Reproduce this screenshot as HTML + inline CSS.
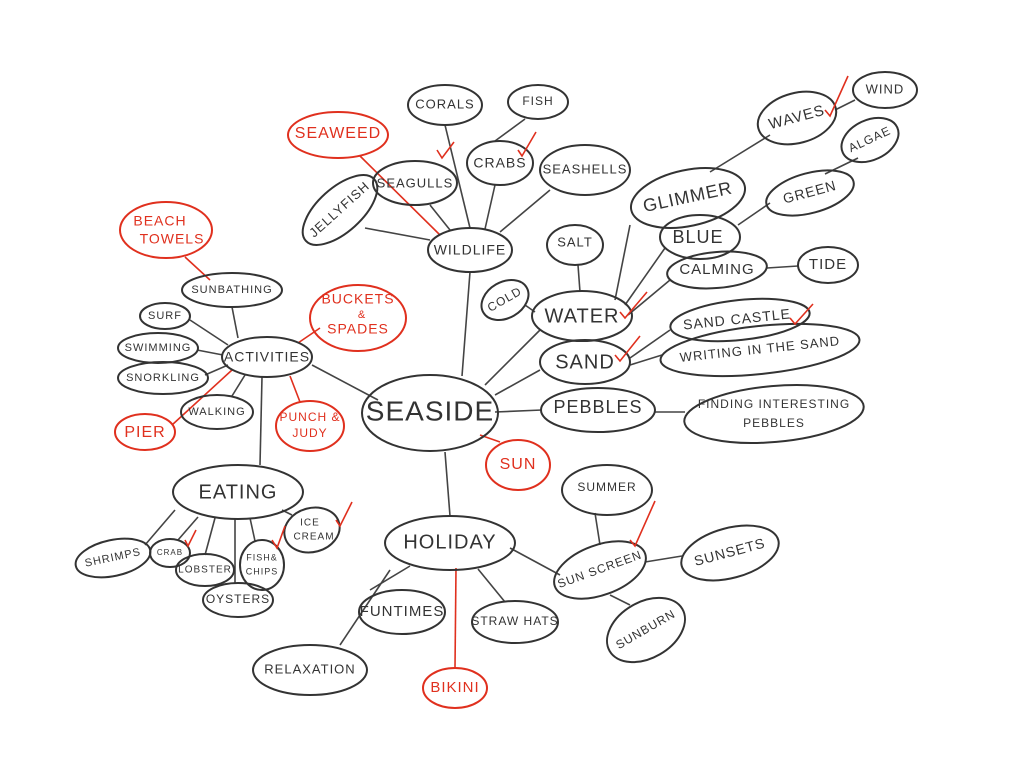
<!DOCTYPE html>
<html><head><meta charset="utf-8"><style>
html,body{margin:0;padding:0;background:#fff}
svg{display:block}
text{font-family:"Liberation Sans",sans-serif;text-anchor:middle;dominant-baseline:middle;fill:#333;letter-spacing:1px}
.r text,text.r{fill:#e0301e}
ellipse{fill:none;stroke:#333;stroke-width:2}
ellipse.r{stroke:#e0301e}
line{stroke:#444;stroke-width:1.6}
line.r{stroke:#e0301e}
path.c{fill:none;stroke:#e0301e;stroke-width:1.6}
</style></head><body>
<svg width="1024" height="767" viewBox="0 0 1024 767" xmlns="http://www.w3.org/2000/svg">
<!-- connectors -->
<line x1="462" y1="376" x2="470" y2="272"/>
<line x1="430" y1="240" x2="365" y2="228"/>
<line x1="450" y1="230" x2="430" y2="205"/>
<line x1="470" y1="228" x2="445" y2="125"/>
<line x1="485" y1="229" x2="495" y2="185"/>
<line x1="500" y1="232" x2="550" y2="190"/>
<line x1="495" y1="141" x2="525" y2="119"/>
<line class="r" x1="360" y1="156" x2="440" y2="235"/>
<line x1="378" y1="400" x2="312" y2="365"/>
<line x1="238" y1="338" x2="232" y2="307"/>
<line class="r" x1="185" y1="257" x2="210" y2="280"/>
<line x1="190" y1="320" x2="228" y2="345"/>
<line x1="197" y1="350" x2="223" y2="355"/>
<line x1="205" y1="375" x2="228" y2="365"/>
<line class="r" x1="172" y1="425" x2="232" y2="370"/>
<line x1="232" y1="396" x2="245" y2="375"/>
<line class="r" x1="298" y1="343" x2="320" y2="328"/>
<line class="r" x1="290" y1="376" x2="300" y2="402"/>
<line x1="262" y1="377" x2="260" y2="465"/>
<line x1="145" y1="545" x2="175" y2="510"/>
<line x1="178" y1="540" x2="198" y2="517"/>
<line x1="205" y1="555" x2="215" y2="518"/>
<line x1="235" y1="583" x2="235" y2="519"/>
<line x1="255" y1="541" x2="250" y2="518"/>
<line x1="292" y1="515" x2="282" y2="510"/>
<line x1="445" y1="452" x2="450" y2="516"/>
<line class="r" x1="480" y1="435" x2="500" y2="442"/>
<line x1="370" y1="590" x2="410" y2="566"/>
<line x1="340" y1="645" x2="390" y2="570"/>
<line x1="478" y1="569" x2="505" y2="602"/>
<line class="r" x1="456" y1="568" x2="455" y2="668"/>
<line x1="510" y1="548" x2="560" y2="575"/>
<line x1="595" y1="513" x2="600" y2="545"/>
<line x1="645" y1="562" x2="682" y2="556"/>
<line x1="610" y1="595" x2="630" y2="605"/>
<line x1="495" y1="395" x2="540" y2="370"/>
<line x1="495" y1="412" x2="542" y2="410"/>
<line x1="485" y1="385" x2="540" y2="330"/>
<line x1="655" y1="412" x2="685" y2="412"/>
<line x1="630" y1="358" x2="670" y2="330"/>
<line x1="630" y1="365" x2="662" y2="355"/>
<line x1="525" y1="305" x2="535" y2="312"/>
<line x1="578" y1="265" x2="580" y2="292"/>
<line x1="615" y1="300" x2="630" y2="225"/>
<line x1="625" y1="305" x2="665" y2="248"/>
<line x1="628" y1="315" x2="670" y2="280"/>
<line x1="767" y1="268" x2="798" y2="266"/>
<line x1="738" y1="225" x2="770" y2="203"/>
<line x1="825" y1="174" x2="858" y2="158"/>
<line x1="710" y1="172" x2="770" y2="135"/>
<line x1="835" y1="110" x2="855" y2="100"/>
<!-- nodes -->
<ellipse cx="430" cy="413" rx="68" ry="38"/><text x="430" y="413" font-size="28">SEASIDE</text>
<ellipse cx="470" cy="250" rx="42" ry="22"/><text x="470" y="251" font-size="14">WILDLIFE</text>
<ellipse cx="340" cy="210" rx="46" ry="22" transform="rotate(-42 340 210)"/><text x="340" y="210" font-size="13" transform="rotate(-42 340 210)">JELLYFISH</text>
<ellipse cx="415" cy="183" rx="42" ry="22"/><text x="415" y="184" font-size="13">SEAGULLS</text>
<ellipse cx="500" cy="163" rx="33" ry="22"/><text x="500" y="164" font-size="14">CRABS</text>
<ellipse cx="585" cy="170" rx="45" ry="25"/><text x="585" y="170" font-size="13">SEASHELLS</text>
<ellipse cx="445" cy="105" rx="37" ry="20"/><text x="445" y="105" font-size="13">CORALS</text>
<ellipse cx="538" cy="102" rx="30" ry="17"/><text x="538" y="102" font-size="12">FISH</text>
<ellipse class="r" cx="338" cy="135" rx="50" ry="23"/><text class="r" x="338" y="134" font-size="16">SEAWEED</text>
<ellipse class="r" cx="166" cy="230" rx="46" ry="28"/><text class="r" x="160" y="222" font-size="14">BEACH</text><text class="r" x="172" y="240" font-size="14">TOWELS</text>
<ellipse cx="232" cy="290" rx="50" ry="17"/><text x="232" y="290" font-size="11">SUNBATHING</text>
<ellipse cx="267" cy="357" rx="45" ry="20"/><text x="267" y="358" font-size="14">ACTIVITIES</text>
<ellipse cx="165" cy="316" rx="25" ry="13"/><text x="165" y="316" font-size="11">SURF</text>
<ellipse cx="158" cy="348" rx="40" ry="15"/><text x="158" y="348" font-size="11">SWIMMING</text>
<ellipse cx="163" cy="378" rx="45" ry="16"/><text x="163" y="378" font-size="11">SNORKLING</text>
<ellipse class="r" cx="145" cy="432" rx="30" ry="18"/><text class="r" x="145" y="433" font-size="16">PIER</text>
<ellipse cx="217" cy="412" rx="36" ry="17"/><text x="217" y="412" font-size="11">WALKING</text>
<ellipse class="r" cx="358" cy="318" rx="48" ry="33"/><text class="r" x="358" y="300" font-size="14">BUCKETS</text><text class="r" x="362" y="315" font-size="11">&amp;</text><text class="r" x="358" y="330" font-size="14">SPADES</text>
<ellipse class="r" cx="310" cy="426" rx="34" ry="25"/><text class="r" x="310" y="418" font-size="12">PUNCH &amp;</text><text class="r" x="310" y="434" font-size="12">JUDY</text>
<ellipse cx="238" cy="492" rx="65" ry="27"/><text x="238" y="493" font-size="20">EATING</text>
<ellipse cx="113" cy="558" rx="38" ry="18" transform="rotate(-12 113 558)"/><text x="113" y="558" font-size="11" transform="rotate(-12 113 558)">SHRIMPS</text>
<ellipse cx="170" cy="553" rx="20" ry="14"/><text x="170" y="553" font-size="8">CRAB</text>
<ellipse cx="205" cy="570" rx="29" ry="16"/><text x="205" y="570" font-size="10">LOBSTER</text>
<ellipse cx="262" cy="565" rx="22" ry="25"/><text x="262" y="558" font-size="9">FISH&amp;</text><text x="262" y="572" font-size="9">CHIPS</text>
<ellipse cx="312" cy="530" rx="28" ry="22" transform="rotate(-15 312 530)"/><text x="310" y="523" font-size="10">ICE</text><text x="314" y="537" font-size="10">CREAM</text>
<ellipse cx="238" cy="600" rx="35" ry="17"/><text x="238" y="600" font-size="12">OYSTERS</text>
<ellipse cx="450" cy="543" rx="65" ry="27"/><text x="450" y="543" font-size="20">HOLIDAY</text>
<ellipse cx="402" cy="612" rx="43" ry="22"/><text x="402" y="612" font-size="15">FUNTIMES</text>
<ellipse cx="515" cy="622" rx="43" ry="21"/><text x="515" y="622" font-size="12">STRAW HATS</text>
<ellipse cx="310" cy="670" rx="57" ry="25"/><text x="310" y="670" font-size="13">RELAXATION</text>
<ellipse class="r" cx="455" cy="688" rx="32" ry="20"/><text class="r" x="455" y="688" font-size="15">BIKINI</text>
<ellipse class="r" cx="518" cy="465" rx="32" ry="25"/><text class="r" x="518" y="465" font-size="16">SUN</text>
<ellipse cx="600" cy="570" rx="48" ry="25" transform="rotate(-20 600 570)"/><text x="600" y="570" font-size="12" transform="rotate(-20 600 570)">SUN SCREEN</text>
<ellipse cx="607" cy="490" rx="45" ry="25"/><text x="607" y="488" font-size="12">SUMMER</text>
<ellipse cx="730" cy="553" rx="50" ry="25" transform="rotate(-15 730 553)"/><text x="730" y="553" font-size="14" transform="rotate(-15 730 553)">SUNSETS</text>
<ellipse cx="646" cy="630" rx="42" ry="28" transform="rotate(-30 646 630)"/><text x="646" y="630" font-size="12" transform="rotate(-30 646 630)">SUNBURN</text>
<ellipse cx="598" cy="410" rx="57" ry="22"/><text x="598" y="408" font-size="18">PEBBLES</text>
<ellipse cx="774" cy="414" rx="90" ry="28" transform="rotate(-5 774 414)"/><text x="774" y="405" font-size="12">FINDING INTERESTING</text><text x="774" y="424" font-size="12">PEBBLES</text>
<ellipse cx="585" cy="362" rx="45" ry="22"/><text x="585" y="363" font-size="20">SAND</text>
<ellipse cx="760" cy="350" rx="100" ry="24" transform="rotate(-6 760 350)"/><text x="760" y="350" font-size="13" transform="rotate(-6 760 350)">WRITING IN THE SAND</text>
<ellipse cx="740" cy="320" rx="70" ry="20" transform="rotate(-6 740 320)"/><text x="737" y="320" font-size="14" transform="rotate(-6 740 320)">SAND CASTLE</text>
<ellipse cx="582" cy="316" rx="50" ry="25"/><text x="582" y="317" font-size="20">WATER</text>
<ellipse cx="505" cy="300" rx="25" ry="18" transform="rotate(-30 505 300)"/><text x="505" y="300" font-size="12" transform="rotate(-30 505 300)">COLD</text>
<ellipse cx="575" cy="245" rx="28" ry="20"/><text x="575" y="243" font-size="13">SALT</text>
<ellipse cx="717" cy="270" rx="50" ry="18" transform="rotate(-5 717 270)"/><text x="717" y="270" font-size="15">CALMING</text>
<ellipse cx="828" cy="265" rx="30" ry="18"/><text x="828" y="265" font-size="15">TIDE</text>
<ellipse cx="700" cy="237" rx="40" ry="22"/><text x="698" y="238" font-size="18">BLUE</text>
<ellipse cx="688" cy="198" rx="58" ry="28" transform="rotate(-12 688 198)"/><text x="688" y="198" font-size="18" transform="rotate(-12 688 198)">GLIMMER</text>
<ellipse cx="810" cy="193" rx="45" ry="20" transform="rotate(-15 810 193)"/><text x="810" y="193" font-size="14" transform="rotate(-15 810 193)">GREEN</text>
<ellipse cx="870" cy="140" rx="30" ry="20" transform="rotate(-25 870 140)"/><text x="870" y="140" font-size="12" transform="rotate(-25 870 140)">ALGAE</text>
<ellipse cx="797" cy="118" rx="40" ry="25" transform="rotate(-15 797 118)"/><text x="797" y="118" font-size="15" transform="rotate(-15 797 118)">WAVES</text>
<ellipse cx="885" cy="90" rx="32" ry="18"/><text x="885" y="90" font-size="13">WIND</text>
<!-- ticks -->
<path class="c" d="M437 150 l5 8 l12 -16"/>
<path class="c" d="M518 150 l4 6 l14 -24"/>
<path class="c" d="M825 110 l5 6 l18 -40"/>
<path class="c" d="M620 312 l5 6 l22 -26"/>
<path class="c" d="M615 355 l5 6 l20 -25"/>
<path class="c" d="M790 318 l5 6 l18 -20"/>
<path class="c" d="M630 540 l5 6 l20 -45"/>
<path class="c" d="M185 540 l3 6 l8 -16"/>
<path class="c" d="M272 540 l5 8 l8 -22"/>
<path class="c" d="M336 520 l4 6 l12 -24"/>
</svg>
</body></html>
